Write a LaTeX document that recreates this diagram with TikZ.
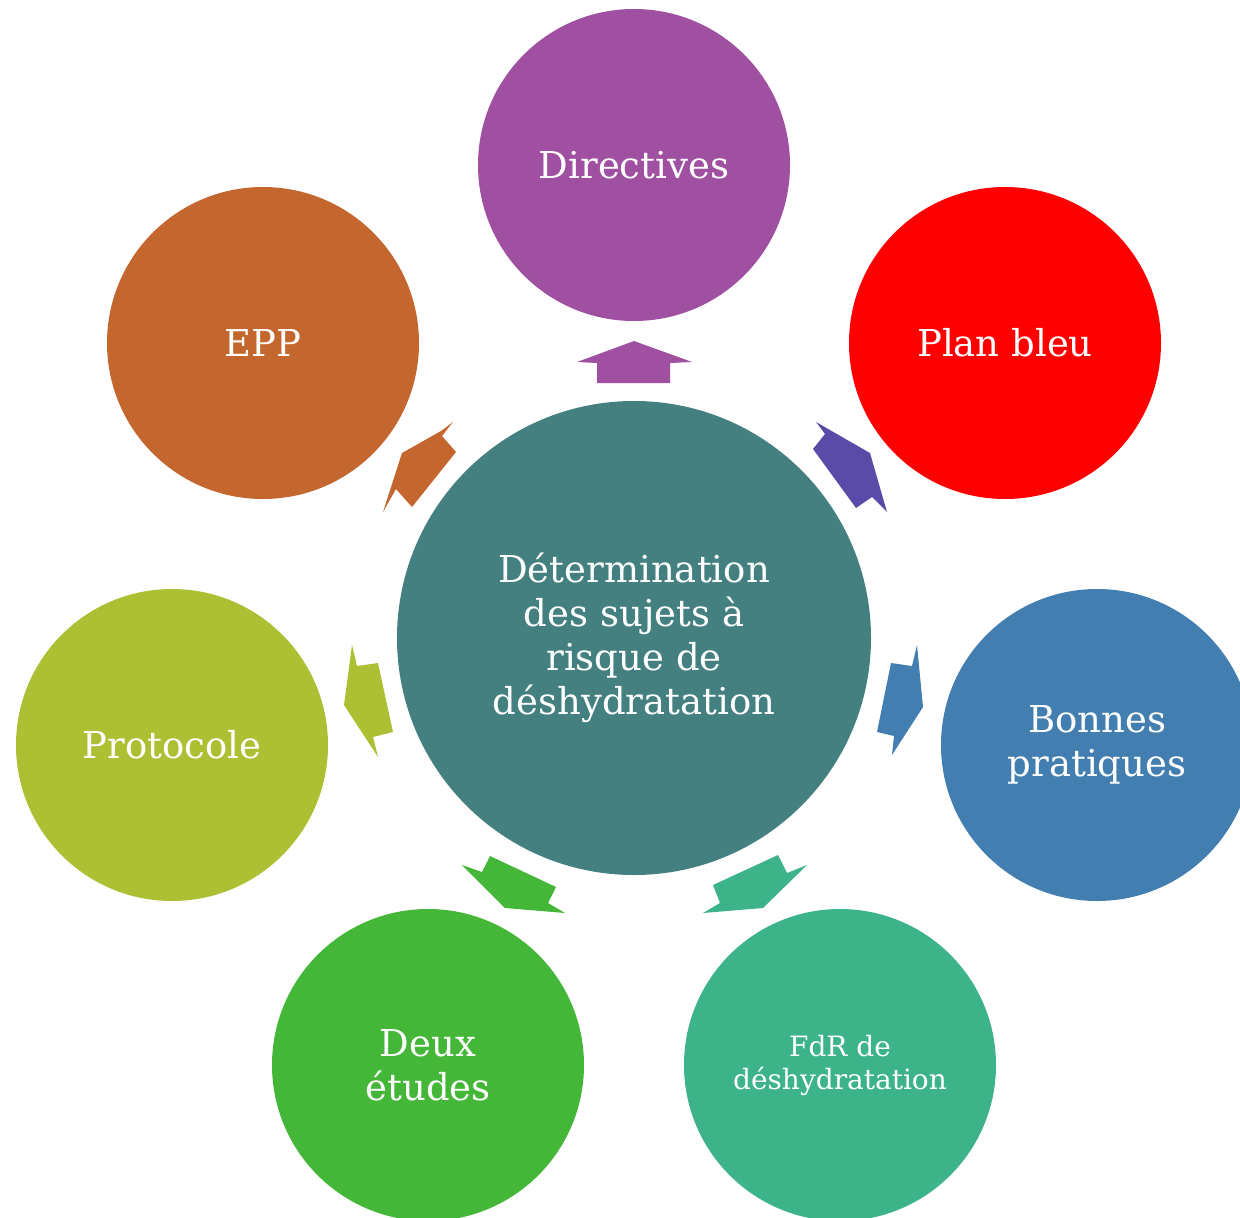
\documentclass[tikz,border=0pt]{standalone}
\usepackage{fontspec}
\setmainfont{DejaVu Serif}
\definecolor{cCenter}{RGB}{68,128,128}
\definecolor{cDir}{RGB}{160,80,160}
\definecolor{cPlan}{RGB}{255,0,0}
\definecolor{cPlanArr}{RGB}{91,75,168}
\definecolor{cBonnes}{RGB}{66,126,176}
\definecolor{cFdR}{RGB}{61,179,138}
\definecolor{cDeux}{RGB}{68,183,57}
\definecolor{cProto}{RGB}{173,191,50}
\definecolor{cEPP}{RGB}{195,103,46}
\begin{document}
\begin{tikzpicture}[x=1pt,y=-1pt,
  bubble/.style={circle,inner sep=0pt,minimum size=312pt,text=white,align=center,font=\fontsize{37}{44}\selectfont}]
\useasboundingbox (0,0) rectangle (1240,1218);
\clip (0,0) rectangle (1240,1218);
% outer circles
\node[bubble,fill=cDir] (dir) at (634,165) {Directives};
\node[bubble,fill=cPlan] (plan) at (1005,343) {Plan bleu};
\node[bubble,fill=cBonnes] (bon) at (1097,745) {Bonnes\\pratiques};
\node[bubble,fill=cFdR,font=\fontsize{28}{33}\selectfont] (fdr) at (840,1065) {FdR de\\déshydratation};
\node[bubble,fill=cDeux] (deux) at (428,1065) {Deux\\études};
\node[bubble,fill=cProto] (proto) at (172,745) {Protocole};
\node[bubble,fill=cEPP] (epp) at (263,343) {EPP};
% centre
\node[bubble,fill=cCenter,minimum size=474pt] (ctr) at (634,638) {Détermination\\des sujets à\\risque de\\déshydratation};
% arrows
\fill[cDir] (577,362) -- (634,341) -- (692,362) -- (670,363) -- (670,383) -- (597,383) -- (597,363) -- cycle;
\fill[cPlanArr] (816,422) -- (870,453) -- (887,512) -- (872,497) -- (856,508) -- (813,449) -- (825,434) -- cycle;
\fill[cBonnes] (917,645) -- (923,707) -- (892,755) -- (894,736) -- (877,732) -- (891,663) -- (912,666) -- cycle;
\fill[cFdR] (807,865) -- (763,908) -- (703,913) -- (720,903) -- (713,885) -- (778,855) -- (787,873) -- cycle;
\fill[cDeux] (462,865) -- (482,872) -- (490,856) -- (556,887) -- (548,903) -- (565,913) -- (505,908) -- cycle;
\fill[cProto] (352,645) -- (357,666) -- (378,663) -- (393,732) -- (373,737) -- (378,757) -- (344,705) -- cycle;
\fill[cEPP] (402,453) -- (441,431) -- (453,422) -- (442,436) -- (456,452) -- (412,507) -- (396,489) -- (383,512) -- cycle;
\end{tikzpicture}
\end{document}
